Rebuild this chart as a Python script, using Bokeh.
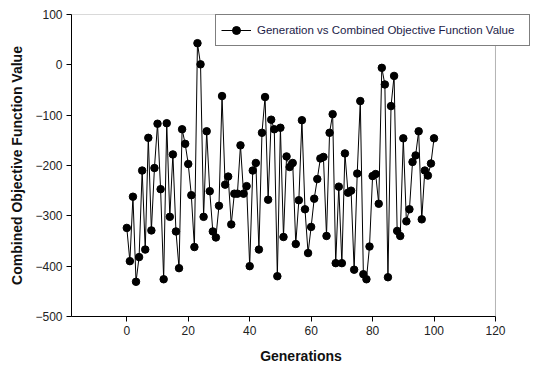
from bokeh.plotting import figure
from bokeh.models import Range1d, FixedTicker, Legend, LegendItem, BoxAnnotation
from bokeh.embed import file_html
from bokeh.resources import INLINE

generations = list(range(101))
values = [
    -324, -390, -262, -431, -382, -210, -367, -145, -329, -205,
    -117, -247, -426, -116, -302, -178, -331, -404, -128, -157,
    -197, -259, -362, 43, 1, -302, -132, -251, -331, -343,
    -280, -62, -238, -222, -317, -256, -256, -160, -256, -241,
    -400, -210, -195, -367, -135, -64, -268, -109, -128, -420,
    -125, -342, -182, -203, -195, -356, -269, -110, -287, -374,
    -322, -266, -227, -186, -183, -340, -135, -98, -394, -242,
    -394, -176, -254, -250, -407, -216, -72, -416, -426, -361,
    -221, -217, -276, -6, -39, -422, -82, -22, -330, -340,
    -146, -311, -287, -193, -180, -132, -307, -210, -220, -196,
    -146,
]
x_ticks = [0, 20, 40, 60, 80, 100, 120]
y_ticks = [100, 0, -100, -200, -300, -400, -500]
series_label = "Generation vs Combined Objective Function Value"
x_title = "Generations"
y_title = "Combined Objective Function Value"

X_MIN, X_MAX = -18, 120
Y_MIN, Y_MAX = -500, 100
FONT = "Liberation Sans"

# the frame is widened past x=120 so the legend box may reach beyond the axes box,
# as in the reference; the visible axes box is drawn as an annotation
p = figure(width=532, height=366, output_backend="svg", toolbar_location=None,
           x_range=Range1d(X_MIN, 131.4), y_range=Range1d(Y_MIN, Y_MAX),
           min_border_left=71, min_border_right=2, min_border_top=14,
           min_border_bottom=48)

p.background_fill_color = "white"
p.border_fill_color = "white"
p.outline_line_color = None
p.xgrid.visible = False
p.ygrid.visible = False

p.add_layout(BoxAnnotation(left=X_MIN, right=X_MAX, bottom=Y_MIN, top=Y_MAX,
                           fill_alpha=0, line_color="black", line_width=1))

line_r = p.line(generations, values, line_color="black", line_width=1)
pts_r = p.scatter(generations, values, size=7.5, fill_color="black", line_color="black")

for ax in (p.xaxis[0], p.yaxis[0]):
    ax.axis_line_color = "black"
    ax.major_tick_line_color = "black"
    ax.major_tick_out = 5
    ax.major_tick_in = 0
    ax.minor_tick_line_color = None
    ax.major_label_text_font = FONT
    ax.major_label_text_font_size = "12px"
    ax.major_label_text_color = "#222222"
    ax.axis_label_text_font = FONT
    ax.axis_label_text_font_size = "14px"
    ax.axis_label_text_font_style = "bold"
    ax.axis_label_text_color = "#111111"
    ax.major_label_standoff = 4

p.xaxis.bounds = (X_MIN, X_MAX)
p.xaxis.ticker = FixedTicker(ticks=x_ticks)
p.yaxis.ticker = FixedTicker(ticks=y_ticks)
p.xaxis.axis_label = x_title
p.yaxis.axis_label = y_title
p.xaxis.axis_label_standoff = 10
p.yaxis.axis_label_standoff = 7

legend = Legend(items=[LegendItem(label=series_label, renderers=[line_r, pts_r])],
                location=(144, 270))
legend.border_line_color = "black"
legend.border_line_width = 1
legend.background_fill_color = "white"
legend.background_fill_alpha = 1
legend.padding = 5
legend.margin = 0
legend.glyph_width = 30
legend.glyph_height = 20
legend.label_standoff = 6
legend.label_width = 267
legend.label_text_font = FONT
legend.label_text_font_size = "11.5px"
legend.label_text_color = "#1c1c48"
p.add_layout(legend)

open("out.html", "w").write(file_html(p, INLINE))
